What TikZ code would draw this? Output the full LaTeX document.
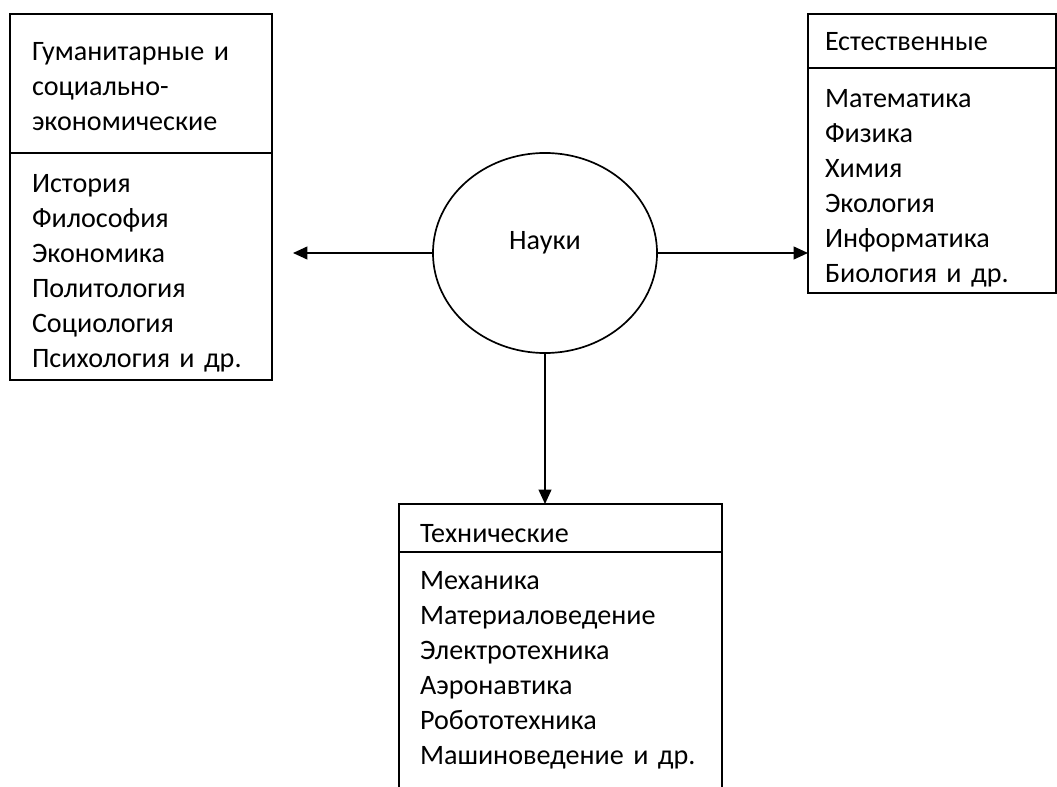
\documentclass[tikz,border=0pt]{standalone}
\usepackage{fontspec}
\setmainfont{Carlito}
\usetikzlibrary{positioning,shapes.geometric,arrows.meta}

\begin{document}
\begin{tikzpicture}[x=0.025cm,y=-0.025cm,line width=1.2pt,
    >={Triangle[length=0.36cm,width=0.32cm]},
    every node/.style={font=\fontsize{20pt}{25pt}\selectfont},
    cell/.style={draw,rectangle,outer sep=0pt,inner ysep=0pt,align=left}]
  \useasboundingbox (0,0) rectangle (1057,787);
  \clip (0,0) rectangle (1057,787);
  % humanities
  \node [cell,anchor=north west,inner xsep=0.55cm,text width=5.45cm,text height=1.15cm,text depth=2.325cm] (humhead) at (10,14) {Гуманитарные и\\социально-\\экономические};
  \node [cell,below=0pt of humhead,inner xsep=0.55cm,text width=5.45cm,text height=0.975cm,text depth=4.7cm] (humbody) {История\\Философия\\Экономика\\Политология\\Социология\\Психология и др.};
  % natural
  \node [cell,anchor=north west,inner xsep=0.425cm,text width=5.35cm,text height=0.9cm,text depth=0.45cm] (nathead) at (808,14) {Естественные};
  \node [cell,below=0pt of nathead,inner xsep=0.425cm,text width=5.35cm,text height=0.975cm,text depth=4.65cm] (natbody) {Математика\\Физика\\Химия\\Экология\\Информатика\\Биология и др.};
  % technical
  \node [cell,anchor=north west,inner xsep=0.525cm,text width=7.025cm,text height=0.95cm,text depth=0.25cm] (techhead) at (399,504) {Технические};
  \node [cell,below=0pt of techhead,inner xsep=0.525cm,text width=7.025cm,text height=0.925cm,text depth=7.5cm] (techbody) {Механика\\Материаловедение\\Электротехника\\Аэронавтика\\Робототехника\\Машиноведение и др.};
  % centre
  \node [draw,ellipse,minimum width=5.6cm,minimum height=5cm,inner sep=0pt,text height=0.45cm,text depth=0.6cm] (sci) at (545,253) {Науки};
  \coordinate (humend) at (293,253);
  \draw [->] (sci.west) -- (humend);
  \draw [->] (sci.east) -- (sci.east -| natbody.west);
  \draw [->] (sci.south) -- (sci.south |- techhead.north);
\end{tikzpicture}
\end{document}
